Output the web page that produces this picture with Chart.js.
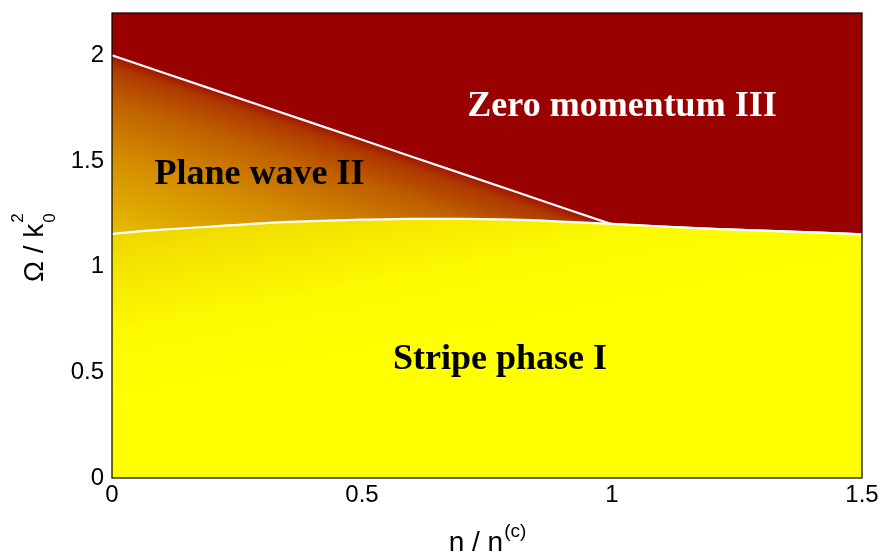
<!DOCTYPE html>
<html>
<head>
<meta charset="utf-8">
<script src="https://cdn.jsdelivr.net/npm/chart.js"></script>
<style>
  body { margin: 0; background: #fff; }
  #wrap { width: 880px; height: 553px; }
</style>
</head>
<body>
<div id="wrap"><canvas id="phaseChart" width="880" height="553"></canvas></div>
<script>
// ---- data ----
const nValues = [0, 0.1, 0.2, 0.3, 0.4, 0.5, 0.6, 0.7, 0.8, 0.9, 1.0, 1.1, 1.2, 1.3, 1.4, 1.5];
// stripe phase boundary (I/II, then I/III)
const stripeBoundary = [1.155, 1.175, 1.19, 1.205, 1.215, 1.222, 1.226, 1.226, 1.222, 1.213, 1.202, 1.19, 1.179, 1.17, 1.162, 1.153];
// zero momentum boundary (II/III), joins the stripe line after n = 1
const zeroMomentumBoundary = [2.0, 1.92, 1.84, 1.76, 1.68, 1.6, 1.52, 1.44, 1.36, 1.28, 1.2, 1.19, 1.179, 1.17, 1.162, 1.153];
const xTicks = [0, 0.5, 1, 1.5];
const yTicks = [0, 0.5, 1, 1.5, 2];

const phaseNames = ["Zero momentum III", "Plane wave II", "Stripe phase I"];
const phaseN = [1.02, 0.295, 0.776];
const phaseOmega = [1.715, 1.391, 0.514];
const phaseColors = ["#ffffff", "#000000", "#000000"];

// ---- helpers ----
function planeWaveFill(c) {
  const chart = c.chart;
  if (!chart.chartArea) return "transparent";
  const xs = chart.scales.x, ys = chart.scales.y;
  const px0 = xs.getPixelForValue(nValues[0]), py0 = ys.getPixelForValue(zeroMomentumBoundary[0]);
  const px1 = xs.getPixelForValue(nValues[10]), py1 = ys.getPixelForValue(zeroMomentumBoundary[10]);
  const dx = px1 - px0, dy = py1 - py0, len = Math.hypot(dx, dy);
  const depth = 175;
  const g = chart.ctx.createLinearGradient(px0, py0, px0 - dy / len * depth, py0 + dx / len * depth);
  g.addColorStop(0, "#a01400");
  g.addColorStop(0.06, "#ae3800");
  g.addColorStop(0.25, "#c06200");
  g.addColorStop(0.55, "#d48e00");
  g.addColorStop(1, "#e8c000");
  return g;
}

function stripeFill(c) {
  const chart = c.chart;
  const a = chart.chartArea;
  if (!a) return "#ffff00";
  const ys = chart.scales.y;
  const y0 = ys.getPixelForValue(1.2);
  const g = chart.ctx.createLinearGradient(a.left, y0, a.left + 34, y0 + 178);
  g.addColorStop(0, "#eed200");
  g.addColorStop(0.3, "#f6e800");
  g.addColorStop(0.6, "#fdfa00");
  g.addColorStop(1, "#ffff00");
  return g;
}

const plotBackground = {
  id: "plotBackground",
  beforeDraw(chart) {
    const { ctx, chartArea: a } = chart;
    ctx.save();
    ctx.fillStyle = "#990000";
    ctx.fillRect(a.left, a.top, a.width, a.height);
    ctx.restore();
  }
};

const overlay = {
  id: "overlay",
  afterDraw(chart) {
    const { ctx, chartArea: a } = chart;
    const xs = chart.scales.x, ys = chart.scales.y;
    ctx.save();
    // frame
    ctx.strokeStyle = "#000";
    ctx.lineWidth = 1.2;
    ctx.strokeRect(a.left, a.top, a.width, a.height);

    // phase names
    ctx.font = "bold 36px 'Liberation Serif', 'Times New Roman', serif";
    ctx.textAlign = "center";
    ctx.textBaseline = "alphabetic";
    phaseNames.forEach((name, i) => {
      ctx.fillStyle = phaseColors[i];
      ctx.fillText(name, xs.getPixelForValue(phaseN[i]), ys.getPixelForValue(phaseOmega[i]));
    });

    // x axis title: n / n^(c)
    ctx.fillStyle = "#000";
    ctx.textAlign = "left";
    const big = "28px 'Liberation Sans', Arial, sans-serif";
    const small = "19px 'Liberation Sans', Arial, sans-serif";
    ctx.font = big;
    const mainX = "n / n";
    const wMain = ctx.measureText(mainX).width;
    ctx.font = small;
    const wSup = ctx.measureText("(c)").width;
    let x0 = (a.left + a.right) / 2 - (wMain + wSup) / 2;
    ctx.font = big;
    ctx.fillText(mainX, x0, 551);
    ctx.font = small;
    ctx.fillText("(c)", x0 + wMain + 1, 537);

    // y axis title: Omega / k_0^2
    ctx.translate(43, 282);
    ctx.rotate(-Math.PI / 2);
    ctx.font = big;
    const mainY = "\u03A9 / k";
    const wY = ctx.measureText(mainY).width;
    ctx.fillText(mainY, 0, 0);
    ctx.font = "17px 'Liberation Sans', Arial, sans-serif";
    ctx.fillText("2", wY + 1, -20);
    ctx.fillText("0", wY + 1, 12);
    ctx.restore();
  }
};

const tickFont = { family: "'Liberation Sans', Arial, sans-serif", size: 24 };

function noPad(scale) {
  scale.paddingTop = 0;
  scale.paddingBottom = 0;
  scale.paddingLeft = 0;
  scale.paddingRight = 0;
}

new Chart(document.getElementById("phaseChart"), {
  type: "line",
  data: {
    labels: nValues,
    datasets: [
      {
        label: "Stripe boundary",
        data: nValues.map((n, i) => ({ x: n, y: stripeBoundary[i] })),
        borderColor: "#ffffff",
        borderWidth: 2.2,
        pointRadius: 0,
        cubicInterpolationMode: "monotone",
        fill: "origin",
        backgroundColor: stripeFill
      },
      {
        label: "Zero momentum boundary",
        data: nValues.map((n, i) => ({ x: n, y: zeroMomentumBoundary[i] })),
        borderColor: "#ffffff",
        borderWidth: 2.2,
        pointRadius: 0,
        tension: 0,
        fill: "-1",
        backgroundColor: planeWaveFill
      }
    ]
  },
  options: {
    responsive: false,
    animation: false,
    layout: { padding: { top: 13, right: 18, left: 0, bottom: 0 } },
    plugins: {
      legend: { display: false },
      tooltip: { enabled: false }
    },
    scales: {
      x: {
        type: "linear",
        min: 0,
        max: 1.5,
        grid: { display: false, drawTicks: false },
        border: { display: false },
        afterBuildTicks: scale => { scale.ticks = xTicks.map(v => ({ value: v })); },
        afterFit: scale => { scale.height = 75; noPad(scale); },
        ticks: {
          color: "#000",
          font: tickFont,
          padding: 3,
          maxRotation: 0,
          callback: v => String(v)
        }
      },
      y: {
        type: "linear",
        min: 0,
        max: 2.2,
        grid: { display: false, drawTicks: false },
        border: { display: false },
        afterBuildTicks: scale => { scale.ticks = yTicks.map(v => ({ value: v })); },
        afterFit: scale => { scale.width = 112; noPad(scale); },
        ticks: {
          color: "#000",
          font: tickFont,
          padding: 8,
          callback: v => String(v)
        }
      }
    }
  },
  plugins: [plotBackground, overlay]
});
</script>
</body>
</html>
